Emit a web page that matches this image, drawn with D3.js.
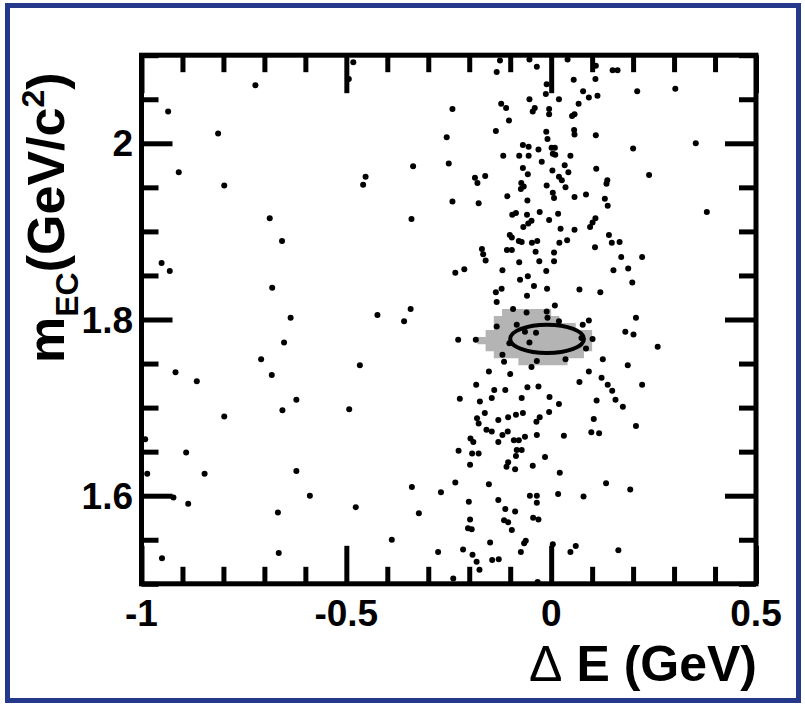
<!DOCTYPE html>
<html>
<head>
<meta charset="utf-8">
<script src="https://cdn.jsdelivr.net/npm/d3@7"></script>
<style>
  html, body { margin: 0; padding: 0; background: #fff; }
  svg { display: block; }
</style>
</head>
<body>
<svg id="chart" width="805" height="706"></svg>
<script>
// ---- axis definitions ----
const xDomain = [-1, 0.5];
const yDomain = [1.5, 2.1];
const xMajorTicks = [-1, -0.5, 0, 0.5];
const xTickLabels = ["-1", "-0.5", "0", "0.5"];
const xMinorStep = 0.1;
const yMajorTicks = [1.6, 1.8, 2.0];
const yTickLabels = ["1.6", "1.8", "2"];
const yMinorStep = 0.05;

// ---- candidate events: [ΔE (GeV), m_EC (GeV/c^2)] ----
const events = [
  [-0.483,2.092],[-0.494,2.073],[-0.722,2.066],[-0.935,2.036],[-0.241,2.039],[-0.813,2.011],[-0.255,2.007],
  [-0.909,1.967],[-0.798,1.952],[-0.453,1.962],[-0.459,1.953],[-0.337,1.974],[-0.250,1.977],[-0.241,1.934],
  [-0.687,1.915],[-0.341,1.914],[-0.657,1.889],[-0.951,1.864],[-0.931,1.855],[-0.234,1.853],[-0.212,1.857],
  [-0.681,1.836],
  [-0.125,2.094],[-0.133,2.081],[-0.053,2.095],[-0.035,2.087],[0.040,2.095],[0.109,2.088],[0.108,2.073],
  [0.150,2.083],[0.162,2.083],[0.055,2.072],[-0.011,2.067],[-0.013,2.056],[0.019,2.050],[0.078,2.059],
  [0.092,2.052],[0.113,2.054],[0.210,2.059],[0.303,2.062],[-0.053,2.050],[-0.122,2.045],[-0.110,2.040],
  [-0.103,2.026],[-0.040,2.040],[-0.045,2.036],[-0.005,2.039],[-0.005,2.033],[0.067,2.045],[0.057,2.033],
  [0.051,2.031],[-0.135,2.014],[-0.012,2.013],[-0.009,2.005],[0.056,2.015],[0.057,2.010],[0.109,2.009],
  [0.200,1.994],[0.353,2.000],[-0.069,1.998],[-0.055,1.996],[-0.031,1.993],[0.001,1.995],[0.009,1.995],
  [0.004,1.988],[0.010,1.987],[-0.117,1.986],[-0.078,1.986],[-0.055,1.986],[0.047,1.986],[-0.023,1.979],
  [0.033,1.975],[-0.069,1.972],[0.003,1.969],[-0.057,1.965],[0.042,1.967],[0.019,1.962],[0.026,1.958],
  [0.110,1.971],[0.239,1.964],[-0.186,1.961],[-0.180,1.955],[-0.161,1.963],[-0.073,1.955],[-0.067,1.951],
  [-0.074,1.948],[-0.011,1.952],[0.035,1.950],[0.137,1.958],[0.135,1.954],[0.004,1.944],[0.007,1.938],
  [-0.107,1.940],[-0.058,1.935],[0.057,1.939],[0.085,1.942],[0.131,1.937],[0.138,1.929],[-0.177,1.932],
  [-0.095,1.919],[-0.086,1.921],[-0.059,1.919],[-0.028,1.922],[0.017,1.920],[-0.005,1.913],[0.108,1.915],
  [0.101,1.910],[0.095,1.905],[0.380,1.922],[-0.048,1.912],[-0.056,1.909],[-0.068,1.905],[0.023,1.903],
  [0.057,1.902],[-0.101,1.896],[-0.096,1.893],[-0.079,1.889],[-0.072,1.888],[-0.047,1.887],[-0.034,1.889],
  [0.020,1.887],[0.039,1.890],[0.141,1.896],[0.148,1.887],[0.167,1.888],[0.107,1.882],[-0.169,1.880],
  [-0.166,1.874],[-0.160,1.867],[-0.108,1.879],[-0.096,1.879],[-0.038,1.877],[0.007,1.876],[-0.078,1.865],
  [-0.029,1.866],[0.007,1.866],[0.171,1.871],[0.222,1.871],[-0.119,1.856],[-0.012,1.855],[0.152,1.856],
  [0.188,1.858],[-0.057,1.849],[-0.076,1.845],[-0.042,1.838],[-0.010,1.835],[0.069,1.834],[0.120,1.831],
  [0.198,1.842],[-0.121,1.835],[-0.135,1.831],[-0.059,1.827],
  [-0.133,1.820],[-0.093,1.812],[-0.060,1.808],[-0.011,1.809],[-0.009,1.802],[0.009,1.816],[0.207,1.802],
  [-0.133,1.792],[-0.084,1.794],[-0.064,1.786],[-0.037,1.785],[-0.053,1.774],[0.019,1.798],[0.077,1.794],
  [0.092,1.799],[0.181,1.786],[0.201,1.783],[0.260,1.769],[-0.227,1.777],[-0.184,1.777],[-0.102,1.773],
  [0.074,1.779],[0.101,1.778],[0.085,1.767],[-0.119,1.760],[-0.115,1.752],[-0.035,1.753],[0.035,1.755],
  [0.126,1.755],[-0.048,1.746],[-0.152,1.741],[-0.100,1.738],[0.092,1.741],[0.187,1.748],[0.123,1.734],
  [0.069,1.729],[0.222,1.726],[-0.183,1.726],[-0.139,1.720],[-0.112,1.720],[-0.058,1.723],[-0.031,1.724],
  [0.138,1.726],[0.149,1.719],[-0.223,1.710],[-0.174,1.707],[-0.145,1.711],[-0.072,1.711],[-0.004,1.712],
  [0.111,1.708],[0.157,1.709],[0.175,1.701],[0.019,1.704],[-0.162,1.694],[-0.181,1.688],[-0.177,1.682],
  [-0.129,1.686],[-0.105,1.689],[-0.086,1.692],[-0.069,1.694],[-0.028,1.689],[-0.036,1.684],[-0.005,1.695],
  [0.104,1.687],[0.207,1.679],[-0.158,1.675],[-0.145,1.673],[-0.119,1.669],[-0.106,1.673],[-0.091,1.663],
  [-0.079,1.663],[-0.064,1.667],[-0.035,1.669],[0.031,1.668],[0.098,1.672],[0.117,1.671],[-0.197,1.665],
  [-0.190,1.661],[-0.129,1.661],[-0.226,1.651],[-0.193,1.648],[-0.177,1.648],[-0.084,1.652],[-0.072,1.652],
  [-0.086,1.645],[-0.105,1.638],[-0.109,1.633],[-0.088,1.630],[-0.045,1.634],[-0.015,1.644],[-0.198,1.635],
  [0.021,1.626],[-0.234,1.615],[-0.152,1.613],[0.134,1.614],[0.193,1.607],[-0.269,1.604],[-0.201,1.593],
  [-0.129,1.595],[-0.052,1.600],[-0.035,1.600],[-0.035,1.592],[0.017,1.602],[0.079,1.599],[-0.112,1.585],
  [-0.088,1.582],[-0.198,1.573],[-0.203,1.563],[-0.194,1.562],[-0.115,1.572],[-0.105,1.570],[-0.044,1.575],
  [-0.031,1.573],[-0.096,1.561],[-0.149,1.547],[-0.062,1.549],[-0.066,1.546],[-0.215,1.539],[-0.192,1.533],
  [-0.182,1.525],[-0.175,1.516],[-0.144,1.527],[-0.128,1.528],[-0.074,1.536],[0.004,1.545],[0.047,1.536],
  [0.060,1.543],[0.164,1.538],[-0.239,1.506],[-0.033,1.502],
  [-0.636,1.802],[-0.652,1.774],[-0.708,1.755],[-0.682,1.737],[-0.622,1.709],[-0.656,1.697],[-0.424,1.805],
  [-0.359,1.798],[-0.343,1.812],[-0.467,1.748],[-0.493,1.698],[-0.917,1.740],[-0.865,1.730],[-0.798,1.690],
  [-0.991,1.664],[-0.891,1.649],[-0.986,1.625],[-0.846,1.625],[-0.922,1.598],[-0.886,1.591],[-0.622,1.628],
  [-0.589,1.600],[-0.667,1.581],[-0.665,1.535],[-0.950,1.529],[-0.477,1.587],[-0.389,1.550],[-0.340,1.610],
  [-0.323,1.580],[-0.276,1.536]
];

// ---- signal region (binned contour): [m top, m bottom, ΔE left, ΔE right] ----
const signalBins = [
  [1.812, 1.804, -0.12, 0.00],
  [1.804, 1.796, -0.14, 0.02],
  [1.796, 1.788, -0.14, 0.06],
  [1.788, 1.780, -0.16, 0.10],
  [1.780, 1.772, -0.18, 0.10],
  [1.772, 1.764, -0.16, 0.10],
  [1.764, 1.756, -0.14, 0.08],
  [1.756, 1.748, -0.08, 0.04]
];

// ---- signal ellipse: centre and half-axes in data units ----
const ellipseCenter = [-0.01, 1.778];
const ellipseHalfAxes = [0.09, 0.016];

// ---- layout ----
const plot = { left: 141.5, right: 756, top: 55.2, bottom: 583.8 };
const FONT = "'Liberation Sans', Arial, Helvetica, sans-serif";

const svg = d3.select("#chart");

const x = d3.scaleLinear().domain(xDomain).range([plot.left, plot.right]);
const y = d3.scaleLinear().domain(yDomain).range([plot.bottom, plot.top]);

// outer blue frame
svg.append("rect")
  .attr("x", 7.5).attr("y", 5.5)
  .attr("width", 791).attr("height", 695)
  .attr("fill", "none")
  .attr("stroke", "#24398c")
  .attr("stroke-width", 5);

// shaded signal region, outlined row by row
(function () {
  const pts = [];
  signalBins.forEach(b => {
    pts.push([x(b[3]), y(b[0])]);
    pts.push([x(b[3]), y(b[1])]);
  });
  for (let i = signalBins.length - 1; i >= 0; i--) {
    const b = signalBins[i];
    pts.push([x(b[2]), y(b[1])]);
    pts.push([x(b[2]), y(b[0])]);
  }
  svg.append("path")
    .attr("d", d3.line()(pts) + "Z")
    .attr("fill", "#b4b4b4")
    .attr("stroke", "none");
})();

// events
svg.append("g")
  .selectAll("circle")
  .data(events)
  .join("circle")
  .attr("cx", d => x(d[0]))
  .attr("cy", d => y(d[1]))
  .attr("r", 3)
  .attr("fill", "#000");

// signal ellipse
svg.append("ellipse")
  .attr("cx", x(ellipseCenter[0]))
  .attr("cy", y(ellipseCenter[1]))
  .attr("rx", x(ellipseCenter[0] + ellipseHalfAxes[0]) - x(ellipseCenter[0]))
  .attr("ry", y(ellipseCenter[1]) - y(ellipseCenter[1] + ellipseHalfAxes[1]))
  .attr("fill", "none")
  .attr("stroke", "#000")
  .attr("stroke-width", 4);

// tick positions
const xTicks = d3.range(0, Math.round((xDomain[1] - xDomain[0]) / xMinorStep) + 1)
  .map(i => +(xDomain[0] + i * xMinorStep).toFixed(4));
const yTicks = d3.range(0, Math.round((yDomain[1] - yDomain[0]) / yMinorStep) + 1)
  .map(i => +(yDomain[0] + i * yMinorStep).toFixed(4));
const isXMajor = v => xMajorTicks.some(t => Math.abs(t - v) < 1e-6);
const isYMajor = v => yMajorTicks.some(t => Math.abs(t - v) < 1e-6);

const X_MINOR = 17, X_MAJOR = 38, Y_MINOR = 17, Y_MAJOR = 31;

function styleAxis(g) {
  g.select(".domain").remove();
  g.selectAll(".tick text").remove();
  g.selectAll(".tick line")
    .attr("stroke", "#000")
    .attr("stroke-width", 5)
    .attr("stroke-linecap", "butt");
}

// bottom and top ticks point inward
svg.append("g").attr("transform", `translate(0,${plot.bottom})`)
  .call(d3.axisBottom(x).tickValues(xTicks).tickSize(-X_MINOR).tickFormat(""))
  .call(styleAxis)
  .selectAll(".tick line").attr("y2", d => isXMajor(d) ? -X_MAJOR : -X_MINOR);
svg.append("g").attr("transform", `translate(0,${plot.top})`)
  .call(d3.axisTop(x).tickValues(xTicks).tickSize(-X_MINOR).tickFormat(""))
  .call(styleAxis)
  .selectAll(".tick line").attr("y2", d => isXMajor(d) ? X_MAJOR : X_MINOR);
// left and right ticks
svg.append("g").attr("transform", `translate(${plot.left},0)`)
  .call(d3.axisLeft(y).tickValues(yTicks).tickSize(-Y_MINOR).tickFormat(""))
  .call(styleAxis)
  .selectAll(".tick line").attr("x2", d => isYMajor(d) ? Y_MAJOR : Y_MINOR);
svg.append("g").attr("transform", `translate(${plot.right},0)`)
  .call(d3.axisRight(y).tickValues(yTicks).tickSize(-Y_MINOR).tickFormat(""))
  .call(styleAxis)
  .selectAll(".tick line").attr("x2", d => isYMajor(d) ? -Y_MAJOR : -Y_MINOR);

// plot frame
svg.append("rect")
  .attr("x", plot.left).attr("y", plot.top)
  .attr("width", plot.right - plot.left).attr("height", plot.bottom - plot.top)
  .attr("fill", "none").attr("stroke", "#000").attr("stroke-width", 5);

// tick labels
svg.append("g").selectAll("text")
  .data(xMajorTicks)
  .join("text")
  .attr("x", d => x(d))
  .attr("y", 626)
  .attr("text-anchor", "middle")
  .attr("font-family", FONT).attr("font-weight", "bold").attr("font-size", 37)
  .text((d, i) => xTickLabels[i]);

svg.append("g").selectAll("text")
  .data(yMajorTicks)
  .join("text")
  .attr("x", 133)
  .attr("y", d => y(d) + 13)
  .attr("text-anchor", "end")
  .attr("font-family", FONT).attr("font-weight", "bold").attr("font-size", 37)
  .text((d, i) => yTickLabels[i]);

// x title
const xt = svg.append("text")
  .attr("x", 757).attr("y", 681)
  .attr("text-anchor", "end")
  .attr("font-family", FONT).attr("font-size", 50).attr("font-weight", "bold");
xt.append("tspan").attr("font-weight", "normal").text("Δ");
xt.append("tspan").text(" E (GeV)");

// y title
const yt = svg.append("text")
  .attr("transform", "translate(64,363) rotate(-90)")
  .attr("font-family", FONT).attr("font-size", 52).attr("font-weight", "bold");
yt.append("tspan").text("m");
yt.append("tspan").attr("font-size", 32).attr("dy", 14).text("EC");
yt.append("tspan").attr("dy", -14).text("(GeV/c");
yt.append("tspan").attr("font-size", 32).attr("dy", -20).text("2");
yt.append("tspan").attr("dy", 20).text(")");
</script>
</body>
</html>
